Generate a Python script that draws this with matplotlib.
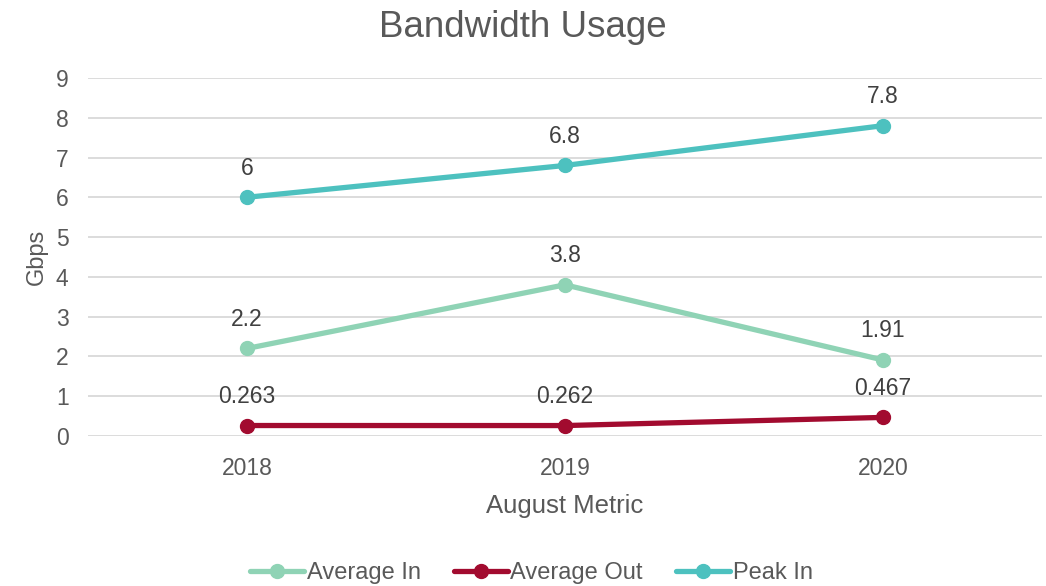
import matplotlib.pyplot as plt
import numpy as np

plt.rcParams['font.family'] = ['Liberation Sans', 'DejaVu Sans']

years = ['2018', '2019', '2020']
avg_in = [2.2, 3.8, 1.91]
avg_out = [0.263, 0.262, 0.467]
peak_in = [6, 6.8, 7.8]

series = [
    ('Average In', avg_in, '#8fd3b5'),
    ('Average Out', avg_out, '#a20b2f'),
    ('Peak In', peak_in, '#4dc1bf'),
]
text_color = '#595959'

fig = plt.figure(figsize=(10.46, 5.86), dpi=100)
ax = fig.add_axes([0.0841, 0.256, 0.912, 0.611])

x = np.arange(len(years))
for name, vals, c in series:
    ax.plot(x, vals, color=c, lw=3.8, marker='o', markersize=10, label=name,
            solid_capstyle='round')
    # value labels above each point
    for xi, v in zip(x, vals):
        ax.annotate(f'{v:g}', (xi, v), xytext=(0, 21), textcoords='offset points',
                    ha='center', va='center', fontsize=16.5, color='#404040')

ax.set_xlim(-0.5, 2.5)
ax.set_ylim(0, 9)
ax.set_yticks(range(10))
ax.set_xticks(x)
ax.set_xticklabels(years)
ax.tick_params(axis='both', length=0, labelsize=16.5, colors=text_color)
ax.tick_params(axis='y', pad=14)
ax.tick_params(axis='x', pad=15)
ax.grid(axis='y', color='#d9d9d9', lw=1.3)
ax.set_axisbelow(True)
for s in ax.spines.values():
    s.set_visible(False)

ax.set_xlabel('August Metric', fontsize=18.5, color=text_color, labelpad=10)
ax.set_ylabel('Gbps', fontsize=17, color=text_color, labelpad=6)
fig.suptitle('Bandwidth Usage', fontsize=26.5, color=text_color, y=0.983)

fig.legend(loc='center', bbox_to_anchor=(0.508, 0.022), ncol=3, frameon=False,
           fontsize=17, labelcolor=text_color, handlelength=2.3, handletextpad=0.1,
           columnspacing=1.4, borderaxespad=0)

fig.savefig('out.png', dpi=100)
